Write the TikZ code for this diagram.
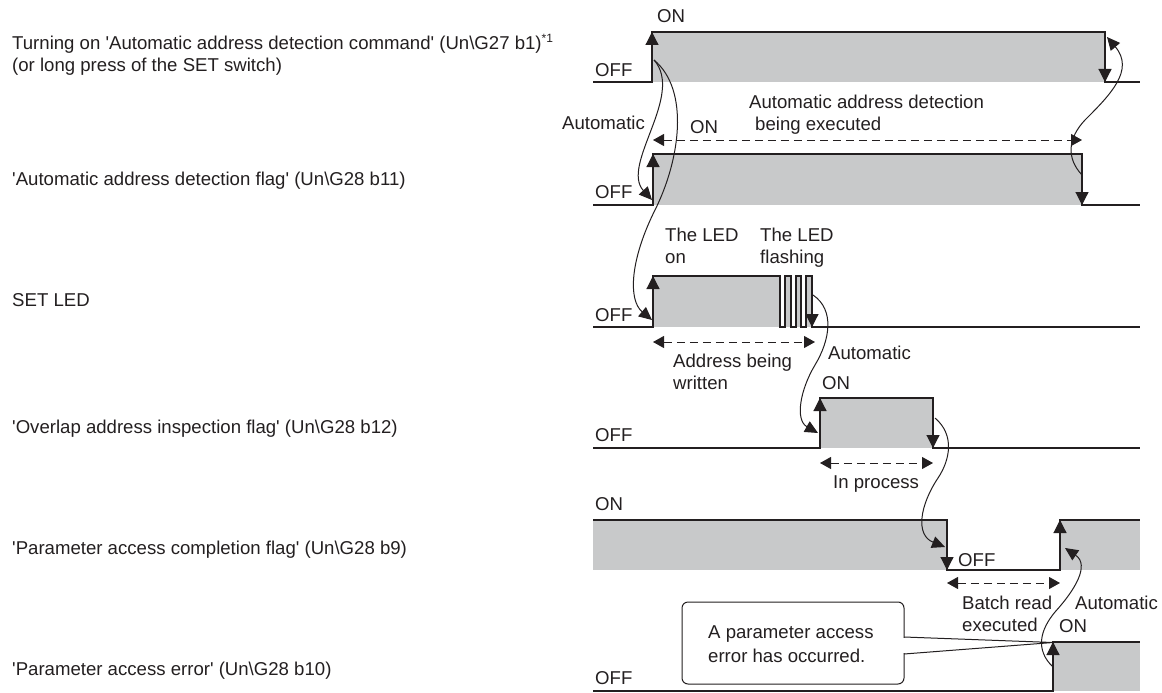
\documentclass[tikz,border=0pt]{standalone}
\usepackage{fontspec}
\setmainfont{Liberation Sans}
\usetikzlibrary{arrows.meta}
\definecolor{ink}{HTML}{231F20}
\definecolor{sig}{HTML}{C8C9CA}
\begin{document}
\begin{tikzpicture}[x=1pt,y=-1pt,
  txt/.style={inner sep=0pt,anchor=base west,text=ink,font=\fontsize{18.6}{22}\selectfont},
  wave/.style={draw=ink,line width=1.2pt,line join=miter},
  gfill/.style={fill=sig},
  edgearr/.style={draw=ink,line width=1.2pt,-{Triangle[length=13pt,width=13pt]}},
  curvearr/.style={draw=ink,line width=1pt,-{Triangle[length=13pt,width=12pt]}},
  spanarr/.style={draw=ink,line width=1pt,dash pattern=on 8pt off 5pt,{Triangle[length=11pt,width=12pt]}-{Triangle[length=11pt,width=12pt]}},
]
\useasboundingbox (0,0) rectangle (1162,693);

% ---- gray fills
\fill[gfill] (652,32) rectangle (1105,82);
\fill[gfill] (653,154) rectangle (1082,205);
\fill[gfill] (653,276) rectangle (780,327);
\fill[gfill] (785,276) rectangle (791,327);
\fill[gfill] (796,276) rectangle (801,327);
\fill[gfill] (806,276) rectangle (812,327);
\fill[gfill] (820,398) rectangle (933,448);
\fill[gfill] (593,520) rectangle (947,570);
\fill[gfill] (1060,520) rectangle (1140,570);
\fill[gfill] (1053,642) rectangle (1140,691);

% ---- waveforms
\draw[wave] (593,82) -- (652,82) -- (652,32) -- (1105,32) -- (1105,82) -- (1140,82);
\draw[wave] (593,205) -- (653,205) -- (653,154) -- (1082,154) -- (1082,205) -- (1140,205);
\draw[wave] (593,327) -- (653,327) -- (653,276) -- (780,276) -- (780,327) -- (785,327) -- (785,276) -- (791,276) -- (791,327) -- (796,327) -- (796,276) -- (801,276) -- (801,327) -- (806,327) -- (806,276) -- (812,276) -- (812,327) -- (1140,327);
\draw[wave] (593,448) -- (820,448) -- (820,398) -- (933,398) -- (933,448) -- (1140,448);
\draw[wave] (593,520) -- (947,520) -- (947,570) -- (1060,570) -- (1060,520) -- (1140,520);
\draw[wave] (593,691) -- (1053,691) -- (1053,642) -- (1140,642);

% ---- edge arrows
\draw[edgearr] (652,82) -- (652,32);
\draw[edgearr] (1105,32) -- (1105,82);
\draw[edgearr] (653,205) -- (653,154);
\draw[edgearr] (1082,154) -- (1082,205);
\draw[edgearr] (653,327) -- (653,276);
\draw[edgearr] (812,276) -- (812,327);
\draw[edgearr] (820,448) -- (820,398);
\draw[edgearr] (933,398) -- (933,448);
\draw[edgearr] (947,520) -- (947,570);
\draw[edgearr] (1060,570) -- (1060,520);
\draw[edgearr] (1053,691) -- (1053,642);

% ---- dashed duration arrows
\draw[spanarr] (653,140) -- (1082,140);
\draw[spanarr] (653,342) -- (815,342);
\draw[spanarr] (820,463) -- (933,463);
\draw[spanarr] (947,583) -- (1060,583);

% ---- causality curves
\draw[curvearr] (654,60) .. controls (685,95) and (620,165) .. (652,200);
\draw[curvearr] (654,60) .. controls (690,90) and (680,160) .. (655,210) .. controls (630,260) and (628,300) .. (652,320);
\draw[curvearr] (1082,175) .. controls (1066,158) and (1068,138) .. (1085,120) .. controls (1110,95) and (1135,70) .. (1107,37);
\draw[curvearr] (813,295) .. controls (835,310) and (830,340) .. (815,365) .. controls (800,390) and (795,420) .. (818,433);
\draw[curvearr] (935,418) .. controls (955,435) and (950,460) .. (938,478) .. controls (920,505) and (915,535) .. (945,547);
\draw[curvearr] (1053,667) .. controls (1035,650) and (1040,630) .. (1055,612) .. controls (1075,590) and (1090,565) .. (1065,548);

% ---- callout
\node[draw=ink,line width=1pt,fill=white,rounded corners=6pt,minimum width=222pt,minimum height=82pt,inner sep=0pt] (callout) at (793,643) {};
\fill[white] (903,638) -- (1053,642.5) -- (903,653) -- cycle;
\draw[ink,line width=1pt] (904,637) -- (1053,642.5) -- (904,654);
\node[txt] (c1) at (708,638) {A parameter access};
\node[txt] (c2) at (708,662) {error has occurred.};

% ---- left labels
\node[txt] (l1a) at (12,50) {Turning on \textquotesingle Automatic address detection command\textquotesingle\ (Un\textbackslash G27 b1)\raisebox{7pt}{\fontsize{12}{12}\selectfont *1}};
\node[txt] (l1b) at (12,71) {(or long press of the SET switch)};
\node[txt] (l2) at (12,185) {\textquotesingle Automatic address detection flag\textquotesingle\ (Un\textbackslash G28 b11)};
\node[txt] (l3) at (12,306) {SET LED};
\node[txt] (l4) at (12,433) {\textquotesingle Overlap address inspection flag\textquotesingle\ (Un\textbackslash G28 b12)};
\node[txt] (l5) at (12,554) {\textquotesingle Parameter access completion flag\textquotesingle\ (Un\textbackslash G28 b9)};
\node[txt] (l6) at (12,675) {\textquotesingle Parameter access error\textquotesingle\ (Un\textbackslash G28 b10)};

% ---- diagram labels
\node[txt] (on1) at (657,23) {ON};
\node[txt] (off1) at (595,77) {OFF};
\node[txt] (auto1) at (562,129) {Automatic};
\node[txt] (on2) at (690,133) {ON};
\node[txt] (exa) at (749,108) {Automatic address detection};
\node[txt] (exb) at (755,130) {being executed};
\node[txt] (off2) at (595,198) {OFF};
\node[txt] (leda) at (665,241) {The LED};
\node[txt] (ledb) at (665,263) {on};
\node[txt] (fla) at (760,241) {The LED};
\node[txt] (flb) at (760,263) {flashing};
\node[txt] (off3) at (595,321) {OFF};
\node[txt] (adra) at (673,367) {Address being};
\node[txt] (adrb) at (673,389) {written};
\node[txt] (auto2) at (828,359) {Automatic};
\node[txt] (on4) at (822,389) {ON};
\node[txt] (off4) at (595,441) {OFF};
\node[txt] (inp) at (833,488) {In process};
\node[txt] (on5) at (595,510) {ON};
\node[txt] (off5) at (958,566) {OFF};
\node[txt] (bra) at (962,609) {Batch read};
\node[txt] (brb) at (962,631) {executed};
\node[txt] (auto3) at (1075,609) {Automatic};
\node[txt] (on6) at (1059,632) {ON};
\node[txt] (off6) at (595,684) {OFF};
\end{tikzpicture}
\end{document}
